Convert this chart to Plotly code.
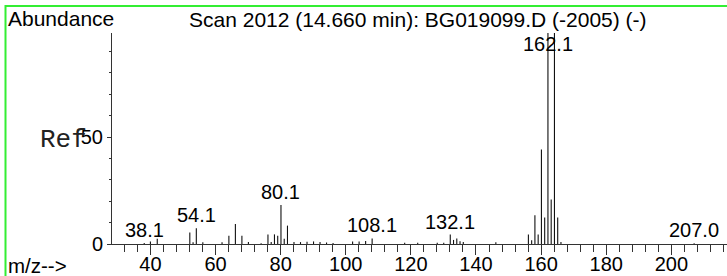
import plotly.graph_objects as go

# ---- data ----
mz = [38.1, 40.0, 42.1, 52.1, 53.1, 54.1, 56.1, 62.0, 64.1, 66.1, 68.1, 70.1, 74.0,
      76.1, 77.1, 78.1, 79.1, 80.1, 81.1, 82.1, 84.1, 86.1, 88.1, 90.1, 92.1, 94.1,
      96.1, 102.1, 104.1, 106.1, 108.1, 118.1, 122.1, 128.1, 130.1, 132.1, 133.1,
      134.1, 135.1, 136.1, 146.1, 156.1, 157.1, 158.1, 159.1, 160.1, 161.1, 162.1,
      163.1, 164.1, 165.1, 166.1, 207.0]
abundance = [0.5, 1.2, 2.4, 5.4, 0.8, 7.4, 0.8, 0.8, 3.9, 9.3, 3.9, 0.9, 0.4,
             4.4, 0.9, 4.5, 3.9, 18.3, 2.5, 8.6, 0.9, 0.9, 1.0, 1.2, 0.9, 0.7,
             0.5, 1.2, 1.2, 1.4, 2.6, 0.6, 0.6, 0.6, 0.6, 4.4, 1.9,
             2.6, 1.3, 0.9, 0.8, 4.5, 1.7, 13.4, 4.5, 44.2, 12.4, 100.0,
             20.8, 100.0, 12.4, 0.9, 0.3]
labeled_peaks = [38.1, 54.1, 80.1, 108.1, 132.1, 162.1, 207.0]
label_texts = ["38.1", "54.1", "80.1", "108.1", "132.1", "162.1", "207.0"]
title_text = "Scan 2012 (14.660 min): BG019099.D (-2005) (-)"

W, H = 727, 276
ML, MR, MT, MB = 112, 0, 33, 32
PW, PH = W - ML - MR, H - MT - MB
YMAX = 98.7
LABEL_CAP = 87.5

def px_x(px):
    return (px - ML) / PW

def px_y(py):
    return (H - MB - py) / PH

xs, ys = [], []
for m, a in zip(mz, abundance):
    xs += [m, m, None]
    ys += [0, a, None]

fig = go.Figure()
fig.add_trace(go.Scatter(x=xs, y=ys, mode="lines",
                         line=dict(color="#111111", width=1.1),
                         hoverinfo="skip", showlegend=False))

SANS = "Liberation Sans, Arial, sans-serif"
MONO = "Liberation Mono, Courier New, monospace"

annotations = []
height_of = dict(zip(mz, abundance))
for v, t in zip(labeled_peaks, label_texts):
    annotations.append(dict(x=v, y=min(height_of.get(v, 0), LABEL_CAP), xref="x", yref="y",
                            text=t, showarrow=False, xanchor="center", yanchor="bottom",
                            font=dict(family=SANS, size=20, color="#000")))

annotations += [
    dict(x=px_x(6.0), y=px_y(18.5), xref="paper", yref="paper", text="Abundance",
         showarrow=False, xanchor="left", yanchor="middle",
         font=dict(family=SANS, size=21, color="#000")),
    dict(x=px_x(418), y=px_y(20), xref="paper", yref="paper", text=title_text,
         showarrow=False, xanchor="center", yanchor="middle",
         font=dict(family=SANS, size=21, color="#000")),
    dict(x=px_x(5.5), y=px_y(265.5), xref="paper", yref="paper", text="m/z-->",
         showarrow=False, xanchor="left", yanchor="middle",
         font=dict(family=SANS, size=20.5, color="#000")),
    dict(x=px_x(37.5), y=px_y(139.5), xref="paper", yref="paper", text="Ref",
         showarrow=False, xanchor="left", yanchor="middle",
         font=dict(family=MONO, size=26, color="#222")),
]

fig.update_layout(
    width=W, height=H,
    margin=dict(l=ML, r=MR, t=MT, b=MB, pad=0, autoexpand=False),
    paper_bgcolor="white", plot_bgcolor="white",
    showlegend=False,
    annotations=annotations,
    shapes=[dict(type="rect", xref="paper", yref="paper",
                 x0=px_x(5.5), x1=px_x(740), y0=px_y(290), y1=px_y(6),
                 line=dict(color="#33ee33", width=2), fillcolor="rgba(0,0,0,0)",
                 layer="below")],
    xaxis=dict(range=[28.2, 217.1], showgrid=False, zeroline=False, automargin=False,
               showline=True, linecolor="#333333", linewidth=1,
               ticks="outside", tick0=0, dtick=20, ticklen=10, tickcolor="#333333",
               tickwidth=1, ticklabelstandoff=-8,
               minor=dict(ticks="outside", tick0=0, dtick=4, ticklen=7,
                          tickcolor="#333333", tickwidth=1, showgrid=False),
               tickfont=dict(family=SANS, size=20, color="#000")),
    yaxis=dict(range=[0, YMAX], showgrid=False, zeroline=False, automargin=False,
               showline=True, linecolor="#333333", linewidth=1,
               ticks="outside", tick0=0, dtick=50, ticklen=4, tickcolor="#333333",
               tickwidth=1,
               minor=dict(ticks="outside", tick0=0, dtick=10, ticklen=2,
                          tickcolor="#333333", tickwidth=1, showgrid=False),
               tickfont=dict(family=SANS, size=20, color="#000")),
)

fig.write_html("out.html", config={"displayModeBar": False},
               post_script="document.body.style.margin='0';document.body.style.overflow='hidden';")
